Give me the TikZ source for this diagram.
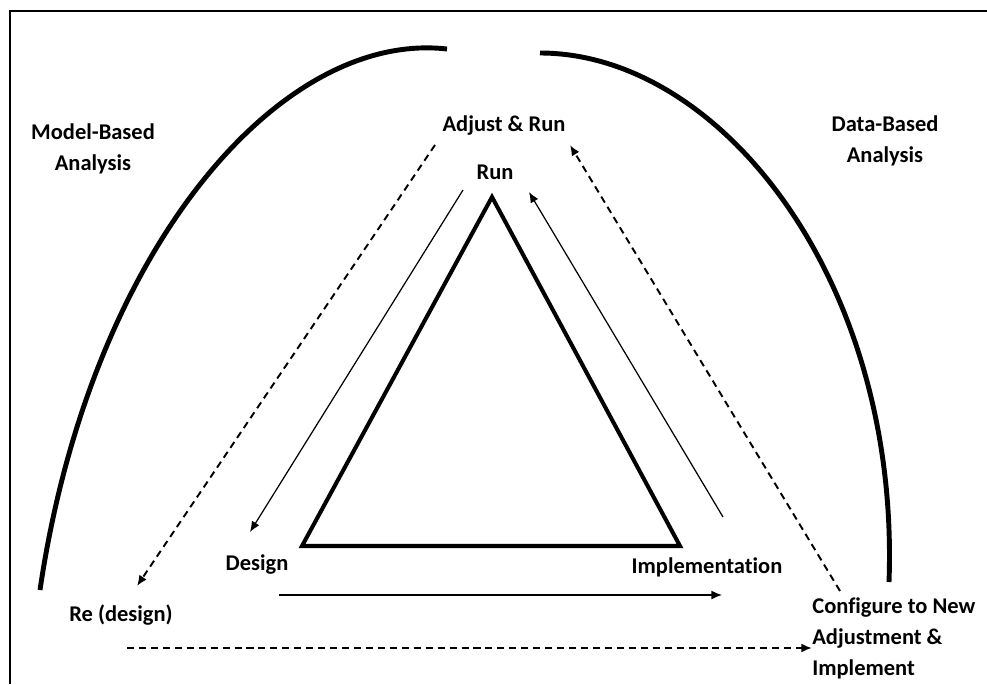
\documentclass[tikz,border=0pt]{standalone}
\usepackage{fontspec}
\setmainfont[Ligatures=CommonOff]{Carlito}
\usetikzlibrary{arrows.meta}
\tikzset{
  lbl/.style={font=\bfseries\fontsize{12.8}{17.6}\selectfont, inner sep=0pt},
  bigarc/.style={line width=2.8pt},
  flow/.style={-{Latex[length=6pt,width=5pt]}, line width=0.7pt},
  dflow/.style={flow, line width=1.1pt, dash pattern=on 4pt off 2.8pt}
}
\begin{document}
\begin{tikzpicture}
  [x=0.02cm,y=-0.02cm]
  \useasboundingbox (0,0) rectangle (987,684);
  \draw[line width=1.1pt] (10,684) -- (10,11) -- (987,11);

  \draw[bigarc] (40,590) .. controls (90,250) and (280,30) .. (447,49);
  \draw[bigarc] (540,53) .. controls (720,53) and (900,280) .. (889,582);
  \draw[line width=2.3pt, line join=miter] (492,197) -- (680,546) -- (302,546) -- cycle;

  \node[lbl, align=center] (model) at (93,149) {Model-Based\\Analysis};
  \node[lbl, align=center] (data) at (885,141) {Data-Based\\Analysis};
  \node[lbl] (adjrun) at (504,126) {Adjust \& Run};
  \node[lbl] (run) at (495,172) {Run};
  \node[lbl] (design) at (257,565) {Design};
  \node[lbl] (redesign) at (121,615) {Re (design)};
  \node[lbl] (impl) at (707,567) {Implementation};
  \node[lbl, align=left, anchor=west] (config) at (812,638) {Configure to New\\Adjustment \&\\Implement};

  \coordinate (runout) at (463,190);
  \coordinate (designin) at (250,532);
  \coordinate (adjout) at (435,145);
  \coordinate (redesignin) at (137,586);
  \coordinate (implout) at (723,517);
  \coordinate (runin) at (529,192);
  \coordinate (configout) at (840,591);
  \coordinate (adjin) at (570,145);
  \coordinate (designout) at (279,595);
  \coordinate (implin) at (722,595);
  \coordinate (redesignout) at (127,648);
  \coordinate (configin) at (812,648);

  \draw[flow] (runout) -- (designin);
  \draw[flow] (implout) -- (runin);
  \draw[flow] (designout) -- (implin);
  \draw[dflow] (adjout) -- (redesignin);
  \draw[dflow] (configout) -- (adjin);
  \draw[dflow] (redesignout) -- (configin);
\end{tikzpicture}
\end{document}
